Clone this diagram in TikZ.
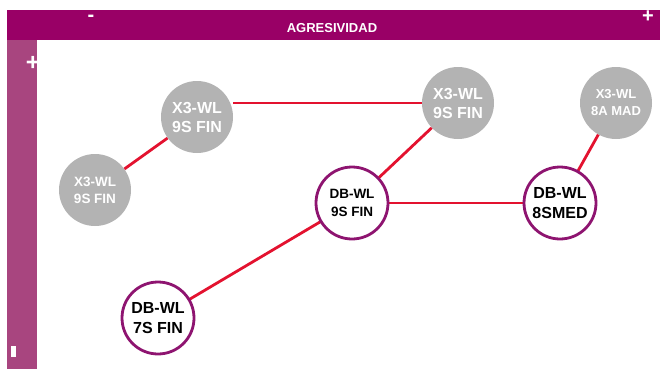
\documentclass[tikz,border=0pt]{standalone}
\usepackage{fontspec}
\setmainfont{Liberation Sans}
\definecolor{barpurple}{HTML}{990066}
\definecolor{sidepurple}{HTML}{A8457F}
\definecolor{ringpurple}{HTML}{8E1470}
\definecolor{edgered}{HTML}{E3122F}
\definecolor{nodegray}{HTML}{B3B3B3}
\tikzset{
  graynode/.style={circle, fill=nodegray, minimum size=72pt, inner sep=0pt, text=white, align=center},
  ringnode/.style={circle, draw=ringpurple, line width=2.8pt, fill=white, minimum size=72pt, inner sep=0pt, text=black, align=center},
  link/.style={draw=edgered, line width=2.8pt}
}
\begin{document}
\begin{tikzpicture}[x=1pt,y=-1pt]
\useasboundingbox (0,0) rectangle (660,369);
% bars
\fill[barpurple] (7,10) rectangle (660,40);
\fill[sidepurple] (7,40) rectangle (37,369);
\node[text=white, font=\bfseries\fontsize{13}{13}\selectfont] (title) at (332,28) {AGRESIVIDAD};
\node[text=white, font=\bfseries\fontsize{20}{20}\selectfont] (minus) at (91,18) {-};
\node[text=white, font=\bfseries\fontsize{20}{20}\selectfont] (plus) at (648,17) {+};
\node[text=white, font=\bfseries\fontsize{24}{24}\selectfont] (vplus) at (33,63) {+};
\fill[white] (11,346) rectangle (16,357);
% nodes
\node[graynode, font=\bfseries\fontsize{13.5}{17}\selectfont] (x3a) at (95,190) {X3-WL\\9S FIN};
\node[graynode, font=\bfseries\fontsize{16}{19}\selectfont] (x3b) at (197,117) {X3-WL\\9S FIN};
\node[graynode, font=\bfseries\fontsize{16}{19}\selectfont] (x3c) at (458,103) {X3-WL\\9S FIN};
\node[graynode, font=\bfseries\fontsize{13}{17}\selectfont] (x3d) at (616,103) {X3-WL\\8A MAD};
% edges
\draw[link] (x3a) -- (x3b);
\draw[link] (x3c.west) -- (x3b.east |- x3c.west);
\draw[link] (x3c) -- (352,203);
\draw[link] (352,203) -- (560,203);
\draw[link] (560,203) -- (x3d);
\draw[link] (352,203) -- (158,318);
\node[ringnode, font=\bfseries\fontsize{13.5}{18}\selectfont] (db9) at (352,203) {DB-WL\\9S FIN};
\node[ringnode, font=\bfseries\fontsize{16}{20}\selectfont] (db8) at (560,203) {DB-WL\\8SMED};
\node[ringnode, font=\bfseries\fontsize{16}{20}\selectfont] (db7) at (158,318) {DB-WL\\7S FIN};
\end{tikzpicture}
\end{document}
